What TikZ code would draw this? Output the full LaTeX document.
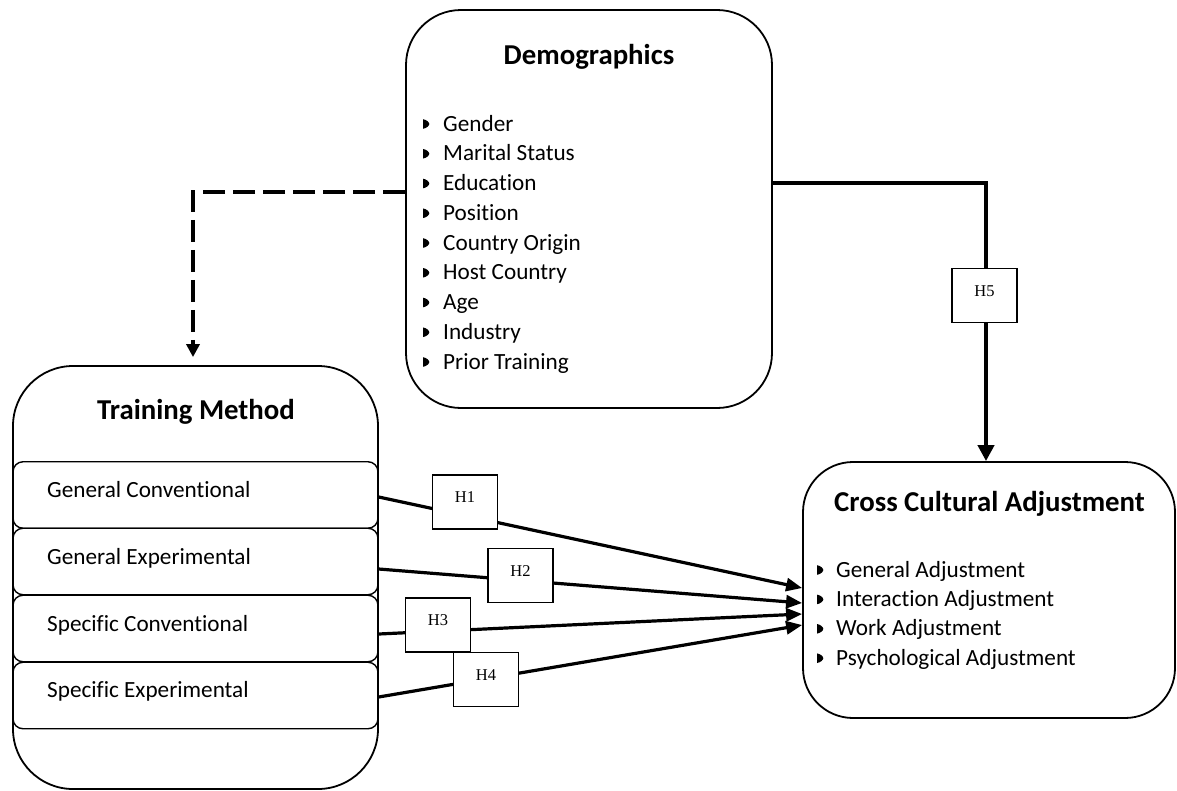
\documentclass[tikz,border=0pt]{standalone}
\usepackage{fontspec}
\setmainfont[Ligatures=NoCommon]{Carlito}
\newfontfamily\serifH{Liberation Serif}
\usetikzlibrary{arrows.meta,calc}
\begin{document}
\begin{tikzpicture}[x=1pt,y=-1pt,
  bigbox/.style={draw, line width=1.8pt, rounded corners=#1, inner sep=0pt},
  subbox/.style={draw, line width=1.4pt, rounded corners=10pt, minimum width=365pt, minimum height=66.5pt, inner sep=0pt},
  ttl/.style={font=\fontsize{28.8}{34}\selectfont\bfseries, inner sep=0pt, anchor=base},
  itm/.style={font=\fontsize{23.2}{28}\selectfont, inner sep=0pt, anchor=base west},
  hbox/.style={draw, fill=white, line width=1.6pt, minimum width=65pt, minimum height=54pt, inner sep=0pt, font=\serifH\fontsize{16.5}{19}\selectfont, text height=11.5pt, text depth=10pt},
  harrow/.style={line width=3.2pt, -{Triangle[length=16pt,width=13pt]}},
  dashconn/.style={line width=4.8pt, dash pattern=on 22pt off 8pt, -{Triangle[length=13pt,width=13pt]}, shorten >=8pt},
  solidconn/.style={line width=4.8pt, -{Triangle[length=16pt,width=16pt]}},
  bul/.pic={\fill (0,-4.8) -- (0,4.8) .. controls (3.7,4.2) and (6.3,1.6) .. (6.3,0) .. controls (6.3,-1.6) and (3.7,-4.2) .. (0,-4.8) -- cycle;}
]
\useasboundingbox (0,0) rectangle (1177,790);

% Demographics
\node[bigbox=55pt, minimum width=366pt, minimum height=398pt] (dem) at (589,209) {};
\node[ttl] (demt) at (589,64) {Demographics};
\foreach \t [count=\i] in {Gender, Marital Status, Education, Position, Country Origin, Host Country, Age, Industry, Prior Training}{
  \node[itm] (d\i) at (443,{131+29.75*(\i-1)}) {\t};
  \pic at (423,{124+29.75*(\i-1)}) {bul};
}

% Training Method
\node[bigbox=60pt, minimum width=365pt, minimum height=423pt] (tm) at (195.5,577.5) {};
\node[ttl] (tmt) at (196,419) {Training Method};
\node[subbox] (gc) at (195.5,495) {};
\node[subbox] (ge) at (195.5,561.5) {};
\node[subbox] (sc) at (195.5,628.5) {};
\node[subbox] (se) at (195.5,695.5) {};
\node[itm] (gct) at (47,497) {General Conventional};
\node[itm] (get) at (47,564) {General Experimental};
\node[itm] (sct) at (47,631) {Specific Conventional};
\node[itm] (set) at (47,697) {Specific Experimental};

% Cross Cultural Adjustment
\node[bigbox=50pt, minimum width=372pt, minimum height=256pt] (cca) at (989,590) {};
\node[ttl] (ccat) at (989.5,511) {Cross Cultural Adjustment};
\foreach \t [count=\i] in {General Adjustment, Interaction Adjustment, Work Adjustment, Psychological Adjustment}{
  \node[itm] (c\i) at (836,{577+29.4*(\i-1)}) {\t};
  \pic at (817,{570+29.4*(\i-1)}) {bul};
}

% connectors
\draw[dashconn] ($(dem.west)+(0,-17)$) -| ($(tm.north)+(-2.5,0)$);
\draw[solidconn] ($(dem.east)+(0,-26)$) -| ($(cca.north)+(-3,0)$);
\draw[harrow] ($(gc.east)+(0,2)$) -- ($(cca.west)+(0,-2)$);
\draw[harrow] ($(ge.east)+(0,7.5)$) -- ($(cca.west)+(0,13)$);
\draw[harrow] ($(sc.east)+(0,5.5)$) -- ($(cca.west)+(0,24)$);
\draw[harrow] ($(se.east)+(0,1.5)$) -- ($(cca.west)+(0,35)$);

% hypothesis boxes
\node[hbox] (h1) at (465,502) {H1};
\node[hbox] (h2) at (520.5,575.5) {H2};
\node[hbox] (h3) at (438,625) {H3};
\node[hbox] (h4) at (486,679.5) {H4};
\node[hbox] (h5) at (984.5,295.5) {H5};
\end{tikzpicture}
\end{document}
